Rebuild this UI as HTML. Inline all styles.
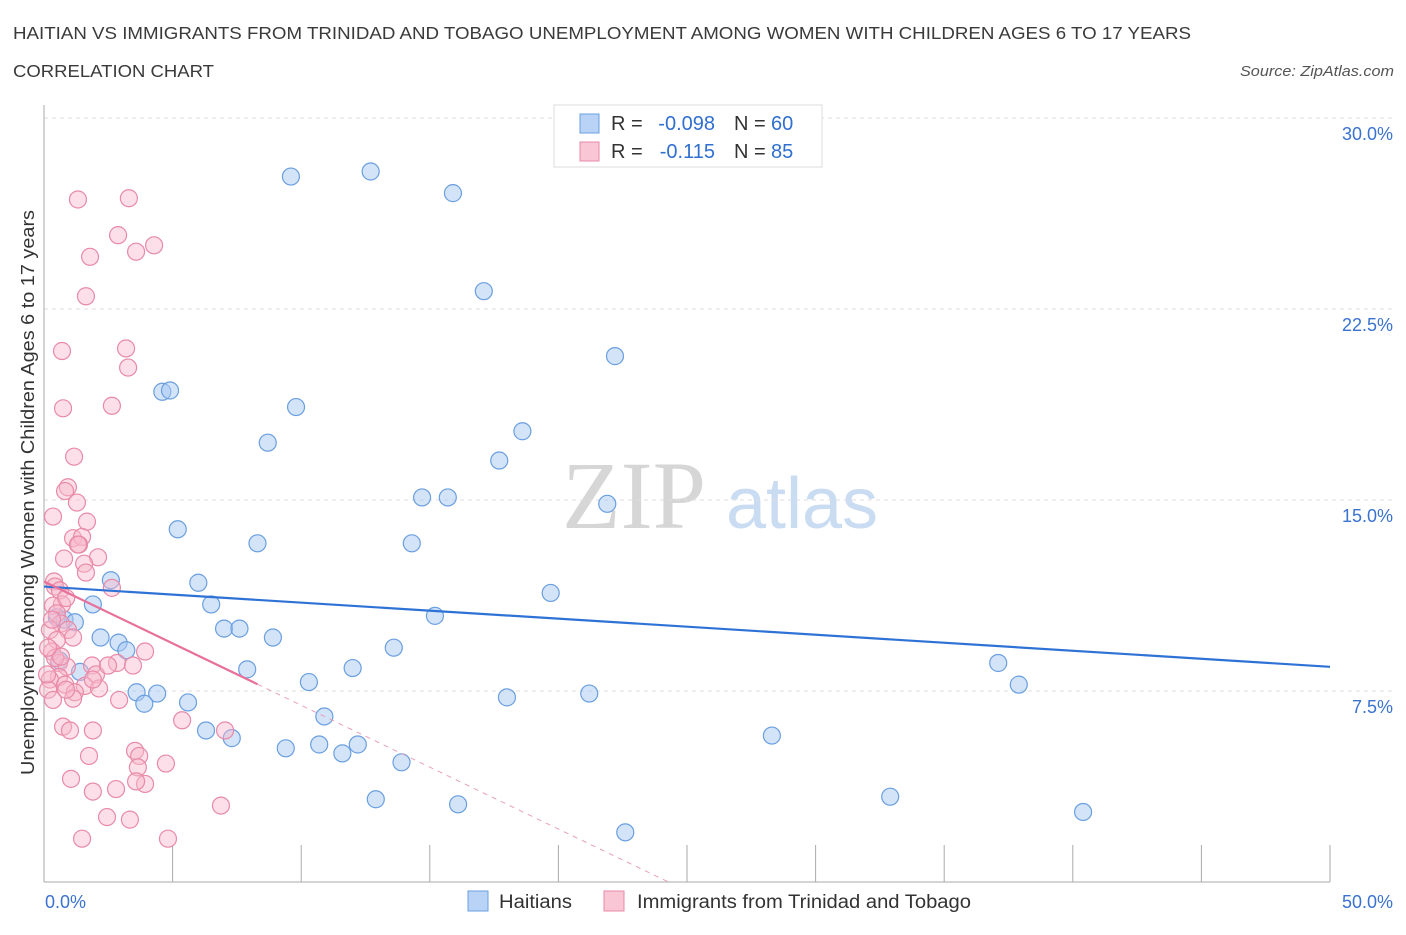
<!DOCTYPE html>
<html><head><meta charset="utf-8"><style>
body{margin:0;background:#fff;font-family:"Liberation Sans",sans-serif;}
</style></head><body>
<svg id="chart" width="1406" height="930" xmlns="http://www.w3.org/2000/svg">
<text x="13" y="39" font-size="17.5" fill="#3a3a3a" textLength="1178" lengthAdjust="spacingAndGlyphs">HAITIAN VS IMMIGRANTS FROM TRINIDAD AND TOBAGO UNEMPLOYMENT AMONG WOMEN WITH CHILDREN AGES 6 TO 17 YEARS</text>
<text x="13" y="77" font-size="17.5" fill="#3a3a3a" textLength="201" lengthAdjust="spacingAndGlyphs">CORRELATION CHART</text>
<text x="1240" y="76" font-size="15" fill="#555" font-style="italic" textLength="154" lengthAdjust="spacingAndGlyphs">Source: ZipAtlas.com</text>
<text x="634" y="528" font-size="96" fill="#d6d6d6" font-family="Liberation Serif,serif" text-anchor="middle">ZIP</text>
<text x="802" y="528" font-size="72" fill="#c9dcf2" text-anchor="middle">atlas</text>
<text x="34" y="775" font-size="18" fill="#333" textLength="565" lengthAdjust="spacingAndGlyphs" transform="rotate(-90 34 775)">Unemployment Among Women with Children Ages 6 to 17 years</text>
<g id="grid"></g><g id="axes"></g><g id="marks"></g>
<g>
<rect x="554" y="105" width="268" height="62" fill="#fff" stroke="#ddd"/>
<rect x="580" y="114" width="19" height="19" fill="#b8d3f5" stroke="#6a9fe0"/>
<rect x="580" y="142" width="19" height="19" fill="#f9c6d6" stroke="#e88aa8"/>
<g font-size="20" fill="#333">
<text x="611" y="130">R =</text>
<text x="715" y="130" fill="#2f6fd0" text-anchor="end">-0.098</text>
<text x="734" y="130">N =</text>
<text x="771" y="130" fill="#2f6fd0">60</text>
<text x="611" y="158">R =</text>
<text x="715" y="158" fill="#2f6fd0" text-anchor="end">-0.115</text>
<text x="734" y="158">N =</text>
<text x="771" y="158" fill="#2f6fd0">85</text>
</g>
</g>
<g>
<rect x="468" y="891" width="20" height="20" fill="#b8d3f5" stroke="#6a9fe0"/>
<text x="499" y="908" font-size="19" fill="#333" textLength="73" lengthAdjust="spacingAndGlyphs">Haitians</text>
<rect x="604" y="891" width="20" height="20" fill="#f9c6d6" stroke="#e88aa8"/>
<text x="637" y="908" font-size="19" fill="#333" textLength="334" lengthAdjust="spacingAndGlyphs">Immigrants from Trinidad and Tobago</text>
</g>
</svg>
<script>
const blueX=[9.6,12.7,15.9,17.1,22.2,4.6,4.9,9.8,8.7,18.6,17.7,14.7,15.7,21.9,5.2,8.3,14.3,2.6,6.0,19.7,1.9,6.5,15.2,0.5,0.8,1.2,2.2,2.9,7.0,7.6,8.9,3.2,13.6,37.1,7.9,12.0,37.9,10.3,1.4,3.6,4.4,3.9,5.6,18.0,21.2,10.9,6.3,7.3,28.3,9.4,10.7,11.6,12.2,13.9,12.9,16.1,32.9,40.4,22.6,0.6];
const blueY=[27.7,27.9,27.05,23.2,20.65,19.25,19.3,18.65,17.25,17.7,16.55,15.1,15.1,14.85,13.85,13.3,13.3,11.85,11.75,11.35,10.9,10.9,10.45,10.4,10.3,10.2,9.6,9.4,9.95,9.95,9.6,9.1,9.2,8.6,8.35,8.4,7.75,7.85,8.25,7.45,7.4,7.0,7.05,7.25,7.4,6.5,5.95,5.65,5.75,5.25,5.4,5.05,5.4,4.7,3.25,3.05,3.35,2.75,1.95,8.7];
const pinkX=[1.32,3.3,2.88,4.28,3.58,1.79,1.63,3.19,0.7,3.27,0.74,2.64,1.17,0.93,0.82,1.28,0.35,1.67,1.13,1.48,1.36,0.78,2.1,1.56,0.39,1.63,2.64,0.43,0.62,0.7,0.35,0.5,0.66,0.93,0.23,1.13,0.5,3.93,0.31,0.58,1.87,2.84,2.02,0.89,3.46,0.58,0.23,0.82,1.59,2.14,1.2,0.16,2.92,1.13,5.37,0.74,1.01,1.9,7.04,3.54,1.75,3.7,4.74,3.65,1.05,2.8,1.9,3.93,3.58,6.88,2.45,3.34,1.48,4.82,0.43,0.12,0.66,2.49,0.16,0.31,0.86,1.32,0.35,0.86,1.9];
const pinkY=[26.8,26.85,25.4,25.0,24.75,24.55,23.0,20.95,20.85,20.2,18.6,18.7,16.7,15.5,15.35,14.9,14.35,14.15,13.5,13.55,13.25,12.7,12.75,12.5,11.8,12.15,11.55,11.6,11.45,10.9,10.85,10.55,10.15,9.9,9.9,9.6,9.5,9.05,9.05,8.6,8.5,8.6,8.15,8.45,8.5,8.05,7.95,7.75,7.7,7.6,7.45,7.55,7.15,7.2,6.35,6.1,5.95,5.95,5.95,5.15,4.95,4.95,4.65,4.5,4.05,3.65,3.55,3.85,3.95,3.0,2.55,2.45,1.7,1.7,8.8,8.15,8.85,8.5,9.2,10.3,11.15,13.25,7.15,7.55,7.95];
const yTicks=[7.5,15,22.5,30];
const yTickLabels=["7.5%","15.0%","22.5%","30.0%"];
const xTicks=[5,10,15,20,25,30,35,40,45,50];
const blueTrend=[11.6,8.45];
const pinkTrend=[11.8,-0.486];
const pinkSolidEnd=8.3;

const NS="http://www.w3.org/2000/svg";
const X0=44,X1=1330,Y0=882,PXP=764/30;
const sx=v=>X0+(X1-X0)*v/50;
const sy=v=>Y0-v*PXP;
function mk(t,a,p){const e=document.createElementNS(NS,t);for(const k in a)e.setAttribute(k,a[k]);p.appendChild(e);return e;}
const grid=document.getElementById('grid'),axes=document.getElementById('axes'),marks=document.getElementById('marks');
yTicks.forEach((v,i)=>{
 const l=mk('line',{x1:X0,x2:1392,y1:sy(v),y2:sy(v),stroke:'#ddd','stroke-dasharray':'4,4'},grid);
 
 
 const t=mk('text',{x:1393,y:sy(v)+22,'font-size':18,fill:'#3a72d0','text-anchor':'end'},axes);
 t.textContent=yTickLabels[i];
 
 
});
const ax=mk('line',{x1:X0,x2:X1,y1:Y0,y2:Y0,stroke:'#aaa'},axes);


const ay=mk('line',{x1:X0,x2:X0,y1:105,y2:Y0,stroke:'#aaa'},axes);


xTicks.forEach(v=>{
 const l=mk('line',{x1:sx(v),x2:sx(v),y1:845,y2:Y0,stroke:'#aaa'},axes);
 
 
});
const xl0=mk('text',{x:45,y:908,'font-size':18,fill:'#3a72d0'},axes);xl0.textContent='0.0%';


const xl1=mk('text',{x:1393,y:908,'font-size':18,fill:'#3a72d0','text-anchor':'end'},axes);xl1.textContent='50.0%';



blueX.forEach((x,i)=>{
 const c=mk('circle',{cx:sx(x),cy:sy(blueY[i]),r:8.5,fill:'rgba(168,200,242,0.5)',stroke:'#6a9fe0','stroke-width':1.2},marks);
 
 
});
pinkX.forEach((x,i)=>{
 const c=mk('circle',{cx:sx(x),cy:sy(pinkY[i]),r:8.5,fill:'rgba(248,184,204,0.45)',stroke:'#e88aa8','stroke-width':1.2},marks);
 
 
});
const bl=mk('line',{x1:sx(0),y1:sy(blueTrend[0]),x2:sx(50),y2:sy(blueTrend[1]),stroke:'#2f72d6','stroke-width':2.2},marks);


const zeroX=-pinkTrend[0]/pinkTrend[1];
const pl=mk('line',{x1:sx(0),y1:sy(pinkTrend[0]),x2:sx(pinkSolidEnd),y2:sy(pinkTrend[0]+pinkTrend[1]*pinkSolidEnd),stroke:'#e8709a','stroke-width':2.2},marks);


const pd=mk('line',{x1:sx(pinkSolidEnd),y1:sy(pinkTrend[0]+pinkTrend[1]*pinkSolidEnd),x2:sx(zeroX),y2:sy(0),stroke:'#e8a0b8','stroke-width':1,'stroke-dasharray':'5,5'},marks);


</script>
</body></html>
